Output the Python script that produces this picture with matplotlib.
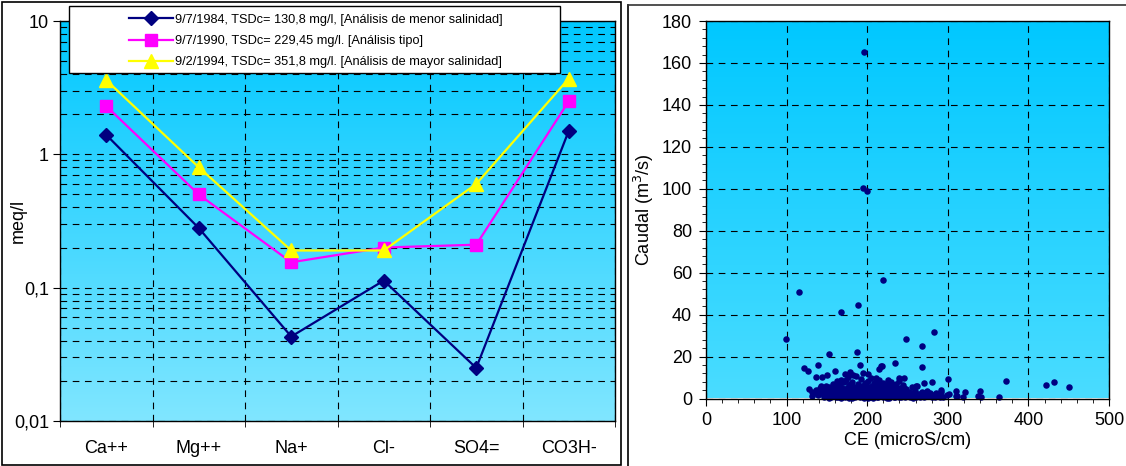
import numpy as np
import matplotlib
matplotlib.use("Agg")
import matplotlib.pyplot as plt
from matplotlib.colors import LinearSegmentedColormap
from matplotlib.patches import Rectangle
from matplotlib.lines import Line2D
from matplotlib.ticker import FixedLocator, NullFormatter

plt.rcParams['font.family'] = ['Liberation Sans', 'DejaVu Sans']

# --- datos panel izquierdo (diagrama de Schoeller) ---
iones = ["Ca++", "Mg++", "Na+", "Cl-", "SO4=", "CO3H-"]
etiquetas = ["9/7/1984, TSDc= 130,8 mg/l, [Análisis de menor salinidad]",
             "9/7/1990, TSDc= 229,45 mg/l. [Análisis tipo]",
             "9/2/1994, TSDc= 351,8 mg/l. [Análisis de mayor salinidad]"]
meq_1984 = [1.4, 0.28, 0.043, 0.113, 0.025, 1.5]
meq_1990 = [2.3, 0.5, 0.155, 0.2, 0.21, 2.5]
meq_1994 = [3.6, 0.8, 0.19, 0.19, 0.6, 3.7]

# --- datos panel derecho (CE vs caudal) ---
ce = [196, 195, 200, 220, 116, 189, 168, 99, 283, 248, 268, 153, 187, 268, 234, 217,
      218, 215, 191, 139, 121, 127, 160, 172, 179, 201, 150, 137, 144, 372, 300, 422,
      432, 450, 280, 271, 340, 321, 310, 292, 363, 337, 341, 319, 311, 299, 290, 240,
      246, 260, 301, 289, 310,
      128, 131, 134, 136, 139, 140, 142, 145, 146, 148, 149, 150, 151, 153, 154, 155,
      156, 157, 158, 159, 160, 161, 162, 163, 164, 165, 166, 167, 168, 169, 170, 171,
      172, 173, 174, 175, 176, 177, 178, 179, 180, 181, 182, 183, 184, 185, 186, 187,
      188, 189, 190, 191, 192, 193, 194, 195, 196, 197, 198, 199, 200, 201, 202, 203,
      204, 205, 206, 207, 208, 209, 210, 211, 212, 213, 214, 215, 216, 217, 218, 219,
      220, 221, 222, 223, 224, 225, 226, 227, 228, 229, 230, 231, 232, 233, 234, 235,
      236, 237, 238, 239, 240, 241, 242, 243, 244, 245, 246, 247, 248, 250, 252, 253,
      255, 256, 258, 259, 261, 262, 264, 266, 268, 270, 272, 274, 276, 278, 280, 282,
      285, 288, 291, 294,
      152, 158, 162, 166, 170, 172, 175, 178, 180, 183, 185, 187, 190, 192, 194, 197,
      199, 201, 203, 206, 208, 210, 212, 214, 216, 218, 220, 222, 224, 226, 228, 230,
      232, 234, 236, 238, 240, 242, 244, 246, 168, 176, 183, 205, 210, 147, 156, 164,
      181, 196, 212, 227, 249, 257, 265, 273, 284, 131, 143, 207]
caudal = [165, 100.2, 98.9, 56.6, 50.6, 44.5, 41.3, 28.5, 31.8, 28.5, 25.1, 21.3, 22.1,
          15.1, 16.7, 15.6, 15.7, 14.3, 15.9, 15.9, 14.5, 13.2, 12.9, 11.9, 12.6, 11.9,
          11.4, 10.2, 10.2, 8.4, 9.5, 6.2, 8.0, 5.7, 7.9, 7.2, 3.5, 2.9, 3.4, 4.0, 0.8,
          1.2, 0.6, 0.8, 1.0, 1.8, 0.9, 9.9, 9.7, 6.0, 2.0, 1.8, 1.0,
          4.5, 3.0, 2.5, 4.0, 1.5, 3.5, 5.0, 2.0, 0.5, 4.0, 6.0, 1.2, 3.0, 5.5, 2.2, 0.8,
          4.5, 7.0, 1.8, 3.2, 5.8, 0.6, 2.6, 8.5, 4.0, 1.2, 6.5, 3.0, 0.4, 5.0, 2.0, 7.8,
          3.8, 1.0, 9.0, 5.2, 2.6, 0.3, 6.2, 4.2, 1.6, 8.0, 3.0, 0.7, 5.6, 2.2, 10.5, 4.6,
          1.3, 7.0, 3.4, 0.5, 9.2, 5.8, 2.0, 12.0, 4.1, 0.9, 6.8, 2.8, 1.5, 8.2, 4.4, 0.6,
          5.5, 2.4, 3.6, 1.0, 7.2, 4.8, 2.0, 9.6, 6.0, 0.5, 3.2, 8.8, 1.6, 5.0, 2.6, 0.8,
          7.5, 4.0, 1.4, 6.4, 3.0, 0.4, 9.0, 5.2, 2.0, 7.8, 1.1, 3.8, 5.8, 0.7, 2.6, 6.6,
          4.4, 1.5, 3.2, 0.5, 8.4, 5.0, 2.0, 3.8, 1.0, 6.2, 2.8, 0.6, 4.5, 1.8, 3.2, 0.8,
          5.5, 2.4, 1.2, 3.6, 0.5, 5.8, 2.0, 1.0, 3.2, 0.7, 2.4, 3.6, 1.2, 2.8, 0.6, 1.8,
          2.5, 1.0, 3.0, 0.8,
          0.3, 4.8, 6.2, 2.4, 4.6, 0.8, 3.4, 1.4, 6.8, 3.8, 0.9, 2.8, 5.2, 1.6, 3.6, 7.4,
          4.9, 0.3, 3.0, 5.8, 1.8, 4.2, 0.8, 6.8, 3.4, 1.2, 4.6, 2.8, 5.6, 1.4, 3.6, 6.4,
          2.2, 0.9, 7.0, 1.9, 4.2, 0.9, 3.0, 5.2, 8.8, 10.2, 11.0, 9.8, 7.2, 2.8, 1.0, 0.5,
          0.4, 0.2, 2.2, 0.3, 1.5, 0.4, 0.6, 1.4, 0.9, 1.2, 6.0, 0.3]

navy = "#000080"
W, H = 1126, 466
fig = plt.figure(figsize=(W / 100, H / 100), dpi=100)


def px(x0, y0, x1, y1):
    # convierte pixeles de la imagen a fracciones de la figura
    return [x0 / W, 1 - y1 / H, (x1 - x0) / W, (y1 - y0) / H]


def fondo(ax, top, bottom):
    cmap = LinearSegmentedColormap.from_list("fondo", [bottom, top])
    grad = np.linspace(0, 1, 256).reshape(-1, 1)
    ax.imshow(grad, cmap=cmap, aspect="auto", extent=[0, 1, 0, 1], origin="lower",
              transform=ax.transAxes, zorder=0)


# ---------------- panel izquierdo ----------------
ax1 = fig.add_axes(px(60, 21, 615, 421))
fondo(ax1, "#00C8FF", "#80E6FF")
x = np.arange(1, len(iones) + 1)
ax1.plot(x, meq_1984, color=navy, lw=1.6, marker="D", ms=7, zorder=4)
ax1.plot(x, meq_1990, color="#FF00FF", lw=1.6, marker="s", ms=9, zorder=4)
ax1.plot(x, meq_1994, color="#FFFF00", lw=1.6, marker="^", ms=10, zorder=4)
ax1.set_yscale("log")
ax1.set_ylim(0.01, 10)
ax1.set_xlim(0.5, len(iones) + 0.5)
ax1.set_yticks([0.01, 0.1, 1, 10])
ax1.set_yticklabels(["0,01", "0,1", "1", "10"], fontsize=13)
ax1.yaxis.set_minor_locator(FixedLocator(
    [m * 10.0 ** e for e in (-2, -1, 0) for m in range(2, 10)]))
ax1.yaxis.set_minor_formatter(NullFormatter())
ax1.set_xticks(x)
ax1.set_xticklabels(iones, fontsize=13)
ax1.xaxis.set_minor_locator(FixedLocator(np.arange(0.5, len(iones) + 1, 1.0)))
ax1.tick_params(axis="x", which="major", length=0, pad=14)
ax1.tick_params(axis="x", which="minor", length=4, direction="out")
ax1.tick_params(axis="y", which="major", length=5, direction="out", pad=3)
ax1.tick_params(axis="y", which="minor", length=4, direction="in")
ax1.set_ylabel("meq/l", fontsize=13)
ax1.yaxis.set_label_coords(-0.06, 0.5)
ax1.grid(True, axis="y", which="both", color="black", lw=0.8, ls=(0, (6, 5)), zorder=1)
ax1.grid(True, axis="x", which="minor", color="black", lw=0.8, ls=(0, (6, 5)), zorder=1)
for s in ax1.spines.values():
    s.set_linewidth(1.0)
    s.set_zorder(5)

# caja de la leyenda
fig.patches.append(Rectangle((69 / W, 1 - 73 / H), (560 - 69) / W, 67 / H,
                             transform=fig.transFigure, facecolor="white",
                             edgecolor="black", lw=1.0, zorder=6))
handles = [Line2D([], [], color=navy, lw=1.6, marker="D", ms=7),
           Line2D([], [], color="#FF00FF", lw=1.6, marker="s", ms=9),
           Line2D([], [], color="#FFFF00", lw=1.6, marker="^", ms=10)]
leg = fig.legend(handles, etiquetas, loc="center", bbox_to_anchor=(316 / W, 1 - 41 / H),
                 frameon=False, fontsize=9.2, handlelength=3.4, handletextpad=0.2,
                 labelspacing=0.72, borderpad=0)
leg.set_zorder(7)

# ---------------- panel derecho ----------------
ax2 = fig.add_axes(px(706, 21, 1109, 398.5))
fondo(ax2, "#00C8FF", "#4ADCFF")
ax2.scatter(ce, caudal, s=22, color=navy, zorder=4, clip_on=False, linewidths=0)
ax2.set_xlim(0, 500)
ax2.set_ylim(0, 180)
ax2.set_xticks(np.arange(0, 501, 100))
ax2.set_yticks(np.arange(0, 181, 20))
ax2.xaxis.set_minor_locator(FixedLocator(np.arange(0, 501, 20)))
ax2.yaxis.set_minor_locator(FixedLocator(np.arange(0, 181, 4)))
ax2.tick_params(which="major", length=5, direction="out", labelsize=13, pad=5)
ax2.tick_params(which="minor", length=3, direction="out")
ax2.set_xlabel("CE (microS/cm)", fontsize=13, labelpad=2)
ax2.set_ylabel("Caudal (m$^3$/s)", fontsize=13, labelpad=4)
ax2.grid(True, which="major", color="black", lw=0.8, ls=(0, (6, 5)), zorder=1)
for s in ax2.spines.values():
    s.set_linewidth(1.0)
    s.set_zorder(5)

# marcos de cada grafico
fig.add_artist(Rectangle((1.5 / W, 1.5 / H), 619 / W, 463 / H, transform=fig.transFigure,
                         fill=False, edgecolor="black", lw=1.2))
fig.add_artist(Line2D([628 / W, 628 / W], [0, 1 - 5 / H], transform=fig.transFigure,
                      color="black", lw=1.2))
fig.add_artist(Line2D([628 / W, 1], [1 - 5 / H, 1 - 5 / H], transform=fig.transFigure,
                      color="#333333", lw=1.2))

fig.savefig("out.png", dpi=100)
